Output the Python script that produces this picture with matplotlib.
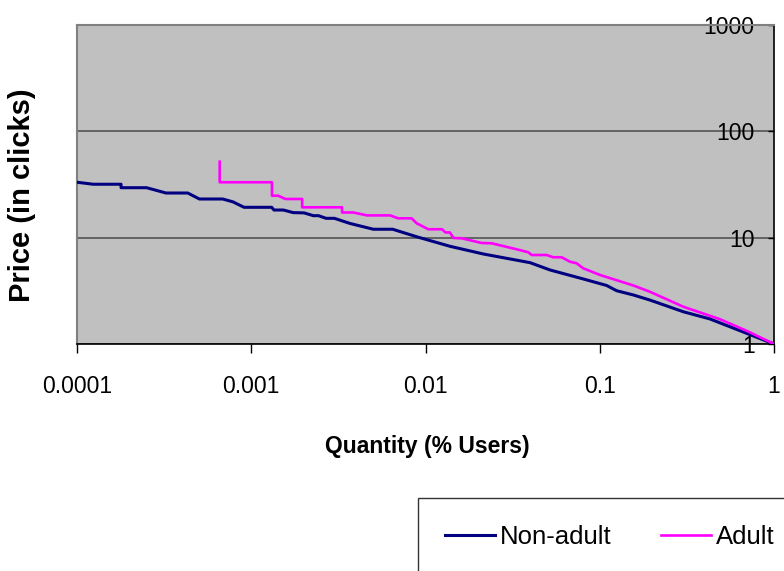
import matplotlib
matplotlib.use('Agg')
import matplotlib.pyplot as plt
from matplotlib.ticker import NullLocator

# Non-adult curve (quantity as fraction of users, price in clicks)
nonadult_q = [1.0e-4, 1.24e-4, 1.79e-4, 1.79e-4, 2.51e-4, 3.24e-4, 4.32e-4, 5.04e-4, 6.86e-4,
              7.86e-4, 9.09e-4, 1.31e-3, 1.35e-3, 1.53e-3, 1.74e-3, 2.01e-3, 2.27e-3, 2.43e-3,
              2.69e-3, 3.0e-3, 3.69e-3, 5.02e-3, 6.48e-3, 8.9e-3, 0.0138, 0.0215, 0.0398,
              0.0518, 0.0804, 0.1096, 0.125, 0.156, 0.194, 0.302, 0.429, 0.697, 1.0]
nonadult_p = [33.2, 31.8, 31.8, 29.5, 29.5, 26.3, 26.3, 23.1, 23.1,
              21.7, 19.3, 19.3, 18.2, 18.2, 17.2, 17.1, 16.1, 16.1,
              15.2, 15.2, 13.6, 12.0, 12.0, 10.2, 8.3, 7.02, 5.82,
              4.97, 4.09, 3.55, 3.17, 2.89, 2.59, 2.01, 1.72, 1.26, 1.0]

# Adult curve
adult_q = [6.59e-4, 6.59e-4, 1.315e-3, 1.315e-3, 1.43e-3, 1.57e-3, 1.96e-3, 1.96e-3, 3.32e-3,
           3.32e-3, 3.85e-3, 4.62e-3, 6.26e-3, 6.98e-3, 8.33e-3, 8.9e-3, 0.01038, 0.01243,
           0.01302, 0.0138, 0.01448, 0.0162, 0.021, 0.024, 0.0334, 0.0389, 0.0407, 0.0496,
           0.0541, 0.0605, 0.0675, 0.0737, 0.0804, 0.1003, 0.156, 0.194, 0.302, 0.49, 0.697, 1.0]
adult_p = [51.8, 33.2, 33.2, 24.8, 24.8, 23.1, 23.1, 19.3, 19.3,
           17.25, 17.25, 16.2, 16.2, 15.2, 15.2, 13.65, 12.0, 12.0,
           11.2, 11.2, 9.93, 9.86, 8.91, 8.85, 7.77, 7.29, 6.87, 6.87,
           6.54, 6.54, 5.94, 5.74, 5.15, 4.46, 3.55, 3.10, 2.24, 1.71, 1.33, 1.0]

xticks = [1e-4, 1e-3, 1e-2, 1e-1, 1]
xticklabels = ['0.0001', '0.001', '0.01', '0.1', '1']
yticks = [1, 10, 100, 1000]
yticklabels = ['1', '10', '100', '1000']

FONT = ['Liberation Sans', 'DejaVu Sans']
W, H = 784, 571

fig = plt.figure(figsize=(W / 100, H / 100), dpi=100)
ax = fig.add_axes([77 / W, 1 - 344 / H, (774 - 77) / W, (344 - 25) / H])
ax.set_facecolor('#c0c0c0')

ax.plot(nonadult_q, nonadult_p, color='#000080', lw=2.2, label='Non-adult', zorder=3)
ax.plot(adult_q, adult_p, color='#ff00ff', lw=1.9, label='Adult', zorder=3)

ax.set_xscale('log')
ax.set_yscale('log')
ax.set_xlim(1e-4, 1)
ax.set_ylim(1, 1000)

ax.set_xticks(xticks)
ax.set_xticklabels(xticklabels, family=FONT, fontsize=16.5)
ax.xaxis.set_minor_locator(NullLocator())
ax.tick_params(axis='x', direction='out', length=6.5, width=1, color='black', pad=16)

ax.yaxis.set_ticks_position('right')
ax.set_yticks(yticks)
ax.set_yticklabels(yticklabels, family=FONT, fontsize=16.5)
ax.yaxis.set_minor_locator(NullLocator())
ax.tick_params(axis='y', direction='in', length=4, width=1, color='black',
               labelright=True, labelleft=False, pad=-14)
for t in ax.yaxis.get_major_ticks():
    t.label2.set_horizontalalignment('right')

ax.grid(axis='y', which='major', color='#4a4a4a', lw=1.1)
ax.grid(axis='x', visible=False)
ax.set_axisbelow(True)

for side in ['top', 'left']:
    ax.spines[side].set_color('#808080')
    ax.spines[side].set_linewidth(1.5)
for side in ['bottom', 'right']:
    ax.spines[side].set_color('black')
    ax.spines[side].set_linewidth(1.2)

fig.text(427 / W, 1 - 446 / H, 'Quantity (% Users)', family=FONT, fontweight='bold',
         fontsize=16.5, ha='center', va='center')
fig.text(22 / W, 1 - 195 / H, 'Price (in clicks)', family=FONT,
         fontweight='bold', fontsize=21, rotation=90, ha='center', va='center')

leg = ax.legend(loc='upper left', bbox_to_anchor=(418 / W, 1 - 498 / H),
                bbox_transform=fig.transFigure, ncol=2, frameon=True, fancybox=False,
                prop={'family': FONT, 'size': 18.5}, handlelength=1.95, handletextpad=0.2,
                columnspacing=1.9, borderpad=1.05, borderaxespad=0)
leg.get_frame().set_edgecolor('black')
leg.get_frame().set_linewidth(1)
leg.get_frame().set_facecolor('white')

fig.savefig('out.png', dpi=100)
